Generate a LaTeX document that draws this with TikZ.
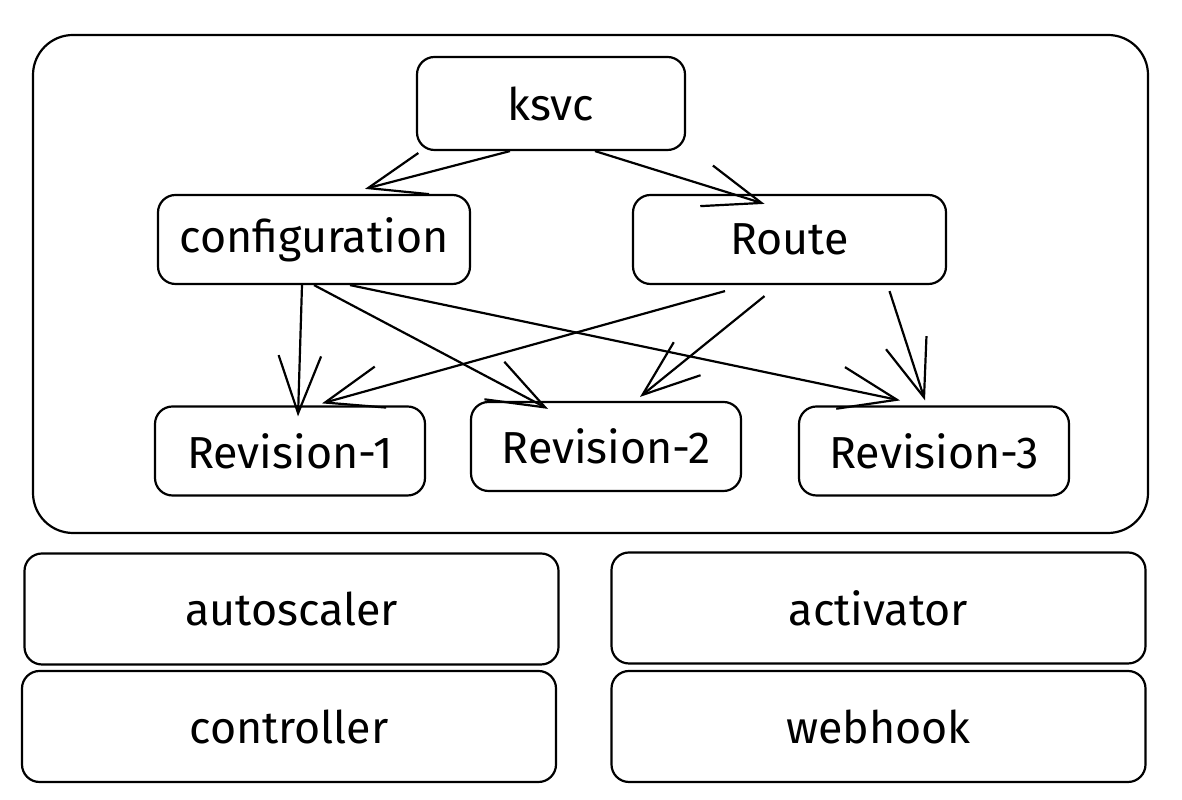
\documentclass[tikz,border=0pt]{standalone}
\usepackage{fontspec}
\setmainfont{Fira Sans}
\usetikzlibrary{arrows.meta}
\pgfdeclarelayer{bg}
\pgfsetlayers{bg,main}
\tikzset{
    every node/.style={rectangle, rounded corners=0.35cm, draw, line width=1.25pt, inner sep=0mm, font=\fontsize{25.5}{29}\selectfont}
}
\tikzset{res/.style={minimum width=5.4cm, minimum height=1.78cm}}
\tikzset{comp/.style={minimum width=10.68cm, minimum height=2.22cm}}
\tikzset{link/.style={line width=1.25pt, -{Straight Barb[length=1.15cm, width=0.85cm, line width=1.25pt]}}}

\begin{document}
\begin{tikzpicture}
        \useasboundingbox (0cm, 0cm) rectangle (23.640000cm, 16.000000cm);
        \draw [line width=1.25pt, rounded corners=0.8cm] (0.660000cm, 5.340000cm) rectangle (22.960000cm, 15.300000cm);
        \node (ksvc) [minimum width=5.36cm, minimum height=1.86cm] at (11.020000cm, 13.930000cm) {ksvc};
        \node (cfg) [minimum width=6.24cm, minimum height=1.78cm] at (6.280000cm, 11.210000cm) {configuration};
        \node (route) [minimum width=6.26cm, minimum height=1.78cm] at (15.790000cm, 11.210000cm) {Route};
        \node (rev1) [res] at (5.800000cm, 6.980000cm) {Revision-1};
        \node (rev2) [res] at (12.120000cm, 7.070000cm) {Revision-2};
        \node (rev3) [res] at (18.680000cm, 6.980000cm) {Revision-3};
        \node (autoscaler) [comp] at (5.830000cm, 3.820000cm) {autoscaler};
        \node (activator) [comp] at (17.570000cm, 3.840000cm) {activator};
        \node (controller) [comp] at (5.780000cm, 1.470000cm) {controller};
        \node (webhook) [comp] at (17.570000cm, 1.470000cm) {webhook};
        \begin{pgfonlayer}{bg}
                \draw ([xshift=-0.82cm]ksvc.south) edge [link] ([xshift=1.02cm, yshift=0.1cm]cfg.north);
                \draw ([xshift=0.88cm]ksvc.south) edge [link] ([xshift=-0.5cm, yshift=-0.2cm]route.north);
                \draw ([xshift=-0.24cm]cfg.south) edge [link] ([xshift=0.16cm, yshift=-0.22cm]rev1.north);
                \draw (cfg.south) edge [link] ([xshift=-1.16cm, yshift=-0.16cm]rev2.north);
                \draw ([xshift=0.72cm]cfg.south) edge [link] ([xshift=-0.68cm, yshift=0.1cm]rev3.north);
                \draw ([xshift=-1.29cm, yshift=-0.12cm]route.south) edge [link] ([xshift=0.64cm, yshift=0.04cm]rev1.north);
                \draw ([xshift=-0.5cm, yshift=-0.22cm]route.south) edge [link] ([xshift=0.68cm, yshift=0.08cm]rev2.north);
                \draw ([xshift=2cm, yshift=-0.12cm]route.south) edge [link] ([xshift=-0.18cm, yshift=0.1cm]rev3.north);
        \end{pgfonlayer}
\end{tikzpicture}
\end{document}
